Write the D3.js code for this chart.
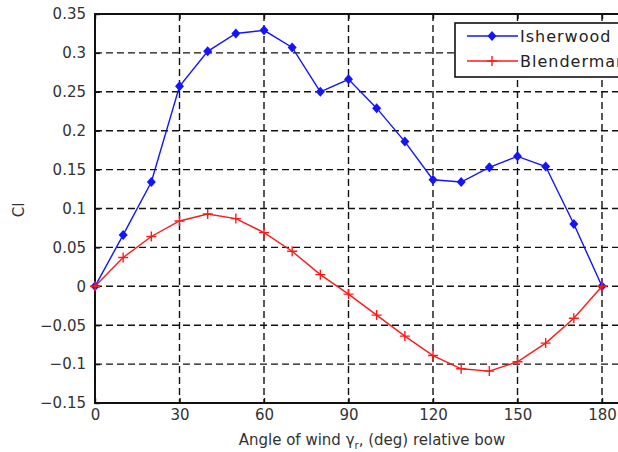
<!DOCTYPE html>
<html>
<head>
  <meta charset="utf-8" />
  <script src="https://d3js.org/d3.v7.min.js"></script>
  <style>
    body { margin: 0; background: #fff; }
    text { font-family: "DejaVu Sans", Arial, sans-serif; fill: #222; }
  </style>
</head>
<body>
  <script>
  // wind angle (deg) and the two roll moment coefficient curves
  var angles = [0, 10, 20, 30, 40, 50, 60, 70, 80, 90, 100, 110, 120, 130, 140, 150, 160, 170, 180];
  var isherwood = [0, 0.066, 0.134, 0.257, 0.302, 0.325, 0.329, 0.307, 0.25, 0.266, 0.229, 0.186, 0.137, 0.134, 0.153, 0.167, 0.154, 0.08, 0];
  var blendermann = [0, 0.037, 0.064, 0.084, 0.093, 0.087, 0.069, 0.045, 0.015, -0.01, -0.037, -0.064, -0.089, -0.106, -0.109, -0.097, -0.073, -0.041, 0];
  var xTicks = [0, 30, 60, 90, 120, 150, 180];
  var yTicks = [-0.15, -0.1, -0.05, 0, 0.05, 0.1, 0.15, 0.2, 0.25, 0.3, 0.35];
  var legendNames = ["Isherwood", "Blendermann"];

  var W = 618, H = 452;
  var plotL = 95, plotT = 14, plotB = 403;
  var x = d3.scaleLinear().domain([0, 180]).range([plotL, 602]);
  var xMax = x(190);
  var y = d3.scaleLinear().domain([-0.15, 0.35]).range([plotB, plotT]);

  var svg = d3.select("body").append("svg")
    .attr("width", W)
    .attr("height", H);

  // grid
  var grid = svg.append("g")
    .attr("stroke", "#111")
    .attr("stroke-width", 1.4)
    .attr("stroke-dasharray", "7,4");
  grid.selectAll(".vg").data(xTicks.slice(1)).enter().append("line")
    .attr("x1", d => x(d)).attr("x2", d => x(d))
    .attr("y1", plotT).attr("y2", plotB);
  grid.selectAll(".hg").data(yTicks.slice(1, -1)).enter().append("line")
    .attr("x1", plotL).attr("x2", xMax)
    .attr("y1", d => y(d)).attr("y2", d => y(d));

  // axes with inward ticks
  var xAxis = d3.axisBottom(x).tickValues(xTicks).tickSize(-5).tickPadding(6).tickFormat(d3.format("d"));
  var yAxis = d3.axisLeft(y).tickValues(yTicks).tickSize(-5).tickPadding(9).tickFormat(d => d === 0 ? "0" : d3.format("")(d));
  var gx = svg.append("g").attr("transform", "translate(0," + plotB + ")").call(xAxis);
  var gy = svg.append("g").attr("transform", "translate(" + plotL + ",0)").call(yAxis);
  var gxt = svg.append("g").attr("transform", "translate(0," + plotT + ")")
    .call(d3.axisTop(x).tickValues(xTicks).tickSize(-5).tickFormat(""));
  [gx, gy, gxt].forEach(function(g) {
    g.select(".domain").remove();
    g.selectAll("line").attr("stroke", "#111").attr("stroke-width", 1.4);
    g.selectAll("text").style("font-size", "15px").style("font-family", "'DejaVu Sans', sans-serif").style("fill", "#333");
  });

  // box
  svg.append("path")
    .attr("d", "M" + xMax + "," + plotT + "H" + plotL + "V" + plotB + "H" + xMax)
    .attr("fill", "none").attr("stroke", "#111").attr("stroke-width", 2);

  var line = d3.line().x((d, i) => x(angles[i])).y(d => y(d));

  function drawSeries(vals, color, marker) {
    svg.append("path").datum(vals)
      .attr("d", line).attr("fill", "none")
      .attr("stroke", color).attr("stroke-width", 1.4);
    var sym = svg.append("g");
    vals.forEach(function(v, i) {
      var cx = x(angles[i]), cy = y(v);
      if (marker === "diamond") {
        sym.append("path")
          .attr("d", "M" + cx + "," + (cy - 5) + "L" + (cx + 4.5) + "," + cy + "L" + cx + "," + (cy + 5) + "L" + (cx - 4.5) + "," + cy + "Z")
          .attr("fill", color);
      } else {
        sym.append("path")
          .attr("d", "M" + (cx - 5) + "," + cy + "H" + (cx + 5) + "M" + cx + "," + (cy - 5) + "V" + (cy + 5))
          .attr("stroke", color).attr("stroke-width", 1.4);
      }
    });
  }
  drawSeries(isherwood, "#1414ff", "diamond");
  drawSeries(blendermann, "#ff1a1a", "plus");

  // legend
  var lg = svg.append("g");
  lg.append("rect").attr("x", 455).attr("y", 23).attr("width", 200).attr("height", 54)
    .attr("fill", "#fff").attr("stroke", "#111").attr("stroke-width", 1.6);
  var colors = ["#1414ff", "#ff1a1a"];
  legendNames.forEach(function(name, i) {
    var ly = 36 + i * 25;
    lg.append("line").attr("x1", 467).attr("x2", 518).attr("y1", ly).attr("y2", ly)
      .attr("stroke", colors[i]).attr("stroke-width", 1.4);
    if (i === 0) {
      lg.append("path").attr("d", "M492," + (ly - 5) + "L496.5," + ly + "L492," + (ly + 5) + "L487.5," + ly + "Z")
        .attr("fill", colors[i]);
    } else {
      lg.append("path").attr("d", "M487," + ly + "H497M492," + (ly - 5) + "V" + (ly + 5))
        .attr("stroke", colors[i]).attr("stroke-width", 1.4);
    }
    lg.append("text").attr("x", 520).attr("y", ly + 6).style("font-size", "16px")
      .style("letter-spacing", "1px").text(name);
  });

  // labels
  var xl = svg.append("text").attr("x", 372).attr("y", 445)
    .attr("text-anchor", "middle").style("font-size", "15px").style("fill", "#333");
  xl.append("tspan").text("Angle of wind \u03B3");
  xl.append("tspan").attr("dy", 4).style("font-size", "10px").text("r");
  xl.append("tspan").attr("dy", -4).text(", (deg) relative bow");

  svg.append("text")
    .attr("transform", "translate(24,210) rotate(-90)")
    .attr("text-anchor", "middle").style("font-size", "15px").style("fill", "#333")
    .text("Cl");
  </script>
</body>
</html>
